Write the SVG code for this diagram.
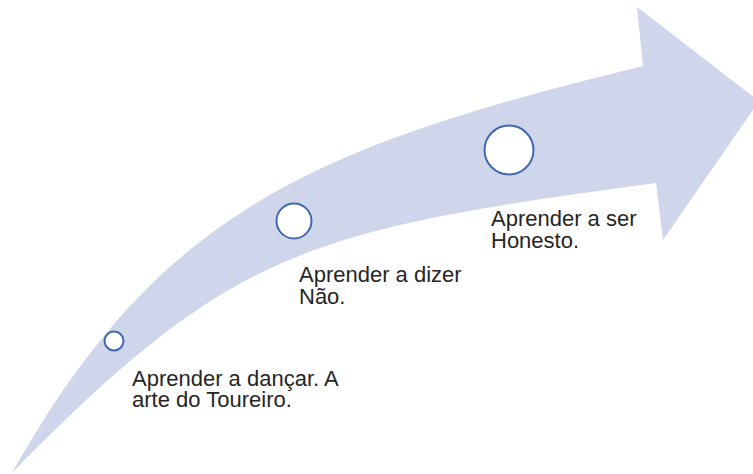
<svg xmlns="http://www.w3.org/2000/svg" width="753" height="474" viewBox="0 0 753 474">
<style>
.lbl{font-family:"Liberation Sans",Arial,sans-serif;font-size:22px;fill:#262626}
.dot{fill:#ffffff;stroke:#4068B2;stroke-width:2}
</style>
<rect width="753" height="474" fill="#ffffff"/>
<g id="connectors">
<path id="arrow" fill="#CFD5EA" d="M12,473 C160,210 313,147 643,66 L637,7 L759,101 L663,240 L656,183 C306,230 232,249 12,473 Z"/>
</g>
<g id="node1">
<circle class="dot" cx="114" cy="341" r="9.5"/>
<text class="lbl" x="132" y="385.5">Aprender a dançar. A</text>
<text class="lbl" x="132" y="407">arte do Toureiro.</text>
</g>
<g id="node2">
<circle class="dot" cx="294" cy="221" r="17.5"/>
<text class="lbl" x="299" y="282">Aprender a dizer</text>
<text class="lbl" x="299" y="304">Não.</text>
</g>
<g id="node3">
<circle class="dot" cx="509" cy="150" r="24.5"/>
<text class="lbl" x="491" y="226">Aprender a ser</text>
<text class="lbl" x="491" y="248">Honesto.</text>
</g>
</svg>
